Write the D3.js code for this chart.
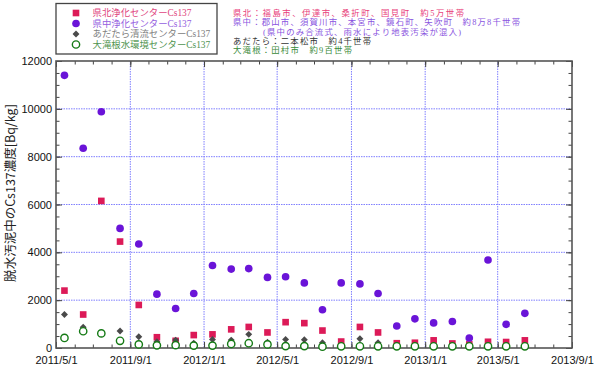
<!DOCTYPE html>
<html><head><meta charset="utf-8">
<script src="https://cdn.jsdelivr.net/npm/d3@7"></script>
<style>body{margin:0;background:#fff}svg{display:block}</style>
</head><body>
<svg id="c" width="598" height="370"></svg>
<script>
// ---- data ----
const months = ["2011-05","2011-06","2011-07","2011-08","2011-09","2011-10","2011-11","2011-12",
  "2012-01","2012-02","2012-03","2012-04","2012-05","2012-06","2012-07","2012-08","2012-09","2012-10","2012-11","2012-12",
  "2013-01","2013-02","2013-03","2013-04","2013-05","2013-06"];
const kenpoku = [2400,1400,6150,4450,1800,450,300,540,570,780,880,650,1080,1040,730,270,880,650,200,220,320,190,150,260,250,320];
const kenchu  = [11400,8350,9880,5000,4350,2250,1650,2280,3450,3300,3320,2950,2980,2720,1600,2720,2680,2280,920,1220,1050,1110,420,3680,990,1450];
const adatara = [1400,870,null,710,470,260,330,200,360,330,570,240,360,350,220,100,390,220,120,100,100,100,100,100,100,100];
const otakine = [420,700,610,300,150,110,120,100,100,170,200,150,80,80,55,70,70,70,70,70,70,70,70,70,70,70];
const yTicks = [0,2000,4000,6000,8000,10000,12000];
const xTickLabels = ["2011/5/1","2011/9/1","2012/1/1","2012/5/1","2012/9/1","2013/1/1","2013/5/1","2013/9/1"];
const legendLabels = ["県北浄化センターCs137","県中浄化センターCs137","あだたら清流センターCs137","大滝根水環境センターCs137"];
const notes = [
  {t:"県北：福島市、伊達市、桑折町、国見町　約5万世帯", c:"#e8407a", dx:0, w:231},
  {t:"県中：郡山市、須賀川市、本宮市、鏡石町、矢吹町　約8万8千世帯", c:"#8a55e0", dx:0, w:287},
  {t:"(県中のみ合流式、雨水により地表汚染が混入)", c:"#8a55e0", dx:30, w:198},
  {t:"あだたら：二本松市　約4千世帯", c:"#333333", dx:0, w:138},
  {t:"大滝根：田村市　約9百世帯", c:"#3a8a3a", dx:0, w:119}
];

const parseD = s => { const [y,m,d] = s.split("/").map(Number); return new Date(y, m-1, d); };
const dates = months.map(s => { const [y,m] = s.split("-").map(Number); return new Date(y, m-1, 15); });
const xMajor = xTickLabels.map(parseD);

const svg = d3.select("#c");
const L=56, R=572, T=61, B=348;
const x = d3.scaleTime().domain([xMajor[0], xMajor[xMajor.length-1]]).range([L,R]);
const y = d3.scaleLinear().domain([0,12000]).range([B,T]);

// grid
const grid = svg.append("g").attr("stroke","#6a6aff").attr("stroke-width",1).attr("stroke-dasharray","1.5,1").attr("opacity",0.85);
grid.selectAll("line.h").data(yTicks.slice(1,-1)).join("line")
  .attr("x1",L).attr("x2",R).attr("y1",d=>y(d)).attr("y2",d=>y(d));
grid.selectAll("line.v").data(xMajor.slice(1,-1)).join("line")
  .attr("y1",T).attr("y2",B).attr("x1",d=>x(d)).attr("x2",d=>x(d));

// axes
const fmt = d3.timeFormat("%Y/%-m/%-d");
const axStyle = g => { g.select(".domain").remove(); g.selectAll(".tick line").attr("stroke","#444"); 
  g.selectAll("text").attr("font-family","'Liberation Sans', Arial, sans-serif").attr("font-size","11px").attr("fill","#111"); };
const minorMonths = d3.timeMonth.range(xMajor[0], xMajor[xMajor.length-1]);
const minorY = d3.range(0,12001,500);

svg.append("g").attr("transform",`translate(0,${B})`)
  .call(d3.axisBottom(x).tickValues(minorMonths).tickSize(-3.5).tickFormat("")).call(axStyle);
svg.append("g").attr("transform",`translate(0,${B})`)
  .call(d3.axisBottom(x).tickValues(xMajor).tickSize(-6).tickPadding(8).tickFormat(fmt)).call(axStyle);
svg.append("g").attr("transform",`translate(0,${T})`)
  .call(d3.axisTop(x).tickValues(minorMonths).tickSize(-3.5).tickFormat("")).call(axStyle);
svg.append("g").attr("transform",`translate(0,${T})`)
  .call(d3.axisTop(x).tickValues(xMajor).tickSize(-6).tickFormat("")).call(axStyle);
svg.append("g").attr("transform",`translate(${L},0)`)
  .call(d3.axisLeft(y).tickValues(minorY).tickSize(-3.5).tickFormat("")).call(axStyle);
svg.append("g").attr("transform",`translate(${L},0)`)
  .call(d3.axisLeft(y).tickValues(yTicks).tickSize(-6).tickPadding(4).tickFormat(d3.format("d"))).call(axStyle);
svg.append("g").attr("transform",`translate(${R},0)`)
  .call(d3.axisRight(y).tickValues(minorY).tickSize(-3.5).tickFormat("")).call(axStyle);
svg.append("g").attr("transform",`translate(${R},0)`)
  .call(d3.axisRight(y).tickValues(yTicks).tickSize(-6).tickFormat("")).call(axStyle);

svg.append("rect").attr("x",L).attr("y",T).attr("width",R-L).attr("height",B-T)
  .attr("fill","none").attr("stroke","#555").attr("stroke-width",1.6);

// y label
svg.append("text").attr("transform",`translate(15,193) rotate(-90)`)
  .attr("text-anchor","middle").attr("font-family","'Noto Sans CJK JP', sans-serif")
  .attr("font-size","12.5px").attr("fill","#222").text("脱水汚泥中のCs137濃度[Bq/kg]");

// series
const series = [
  {v:kenpoku, type:d3.symbolSquare, size:44, rot:0, fill:"#dc1a58", stroke:"none"},
  {v:kenchu, type:d3.symbolCircle, size:46, rot:0, fill:"#6a14d8", stroke:"none"},
  {v:adatara, type:d3.symbolSquare, size:24, rot:45, fill:"#4a4a4a", stroke:"none"},
  {v:otakine, type:d3.symbolCircle, size:42, rot:0, fill:"#fff", stroke:"#157a15"}
];
series.forEach(s => {
  const pts = s.v.map((v,i)=>({d:dates[i], v})).filter(p=>p.v!=null);
  svg.append("g").selectAll("path").data(pts).join("path")
    .attr("d", d3.symbol().type(s.type).size(s.size))
    .attr("transform", p=>`translate(${x(p.d)},${y(p.v)}) rotate(${s.rot})`)
    .attr("fill", s.fill).attr("stroke", s.stroke).attr("stroke-width", 1.4);
});

// legend
svg.append("rect").attr("x",56).attr("y",3.5).attr("width",161).attr("height",50.5)
  .attr("fill","#fff").attr("stroke","#444").attr("stroke-width",1.3);
const legColors = ["#e0457e","#9460e0","#808080","#4f944f"];
const legY = [13,23.5,34,44.5];
const tightFont = "'Liberation Serif', 'Noto Sans CJK JP', serif";
series.forEach((s,i)=>{
  svg.append("path").attr("d", d3.symbol().type(s.type).size(s.size)())
    .attr("transform",`translate(76,${legY[i]}) rotate(${s.rot})`).attr("fill",s.fill).attr("stroke",s.stroke).attr("stroke-width",1.4);
  svg.append("text").attr("x",92.5).attr("y",legY[i]+3.4)
    .attr("font-family",tightFont).attr("font-size","9.4px")
    .attr("fill",legColors[i]).text(legendLabels[i]);
});

// notes
notes.forEach((n,i)=>{
  svg.append("text").attr("x",233+n.dx).attr("y",16.3+i*9.1)
    .attr("font-family",tightFont).attr("font-size","8.4px")
    .attr("textLength", n.w).attr("lengthAdjust","spacing")
    .attr("fill",n.c).text(n.t);
});
</script>
</body></html>
